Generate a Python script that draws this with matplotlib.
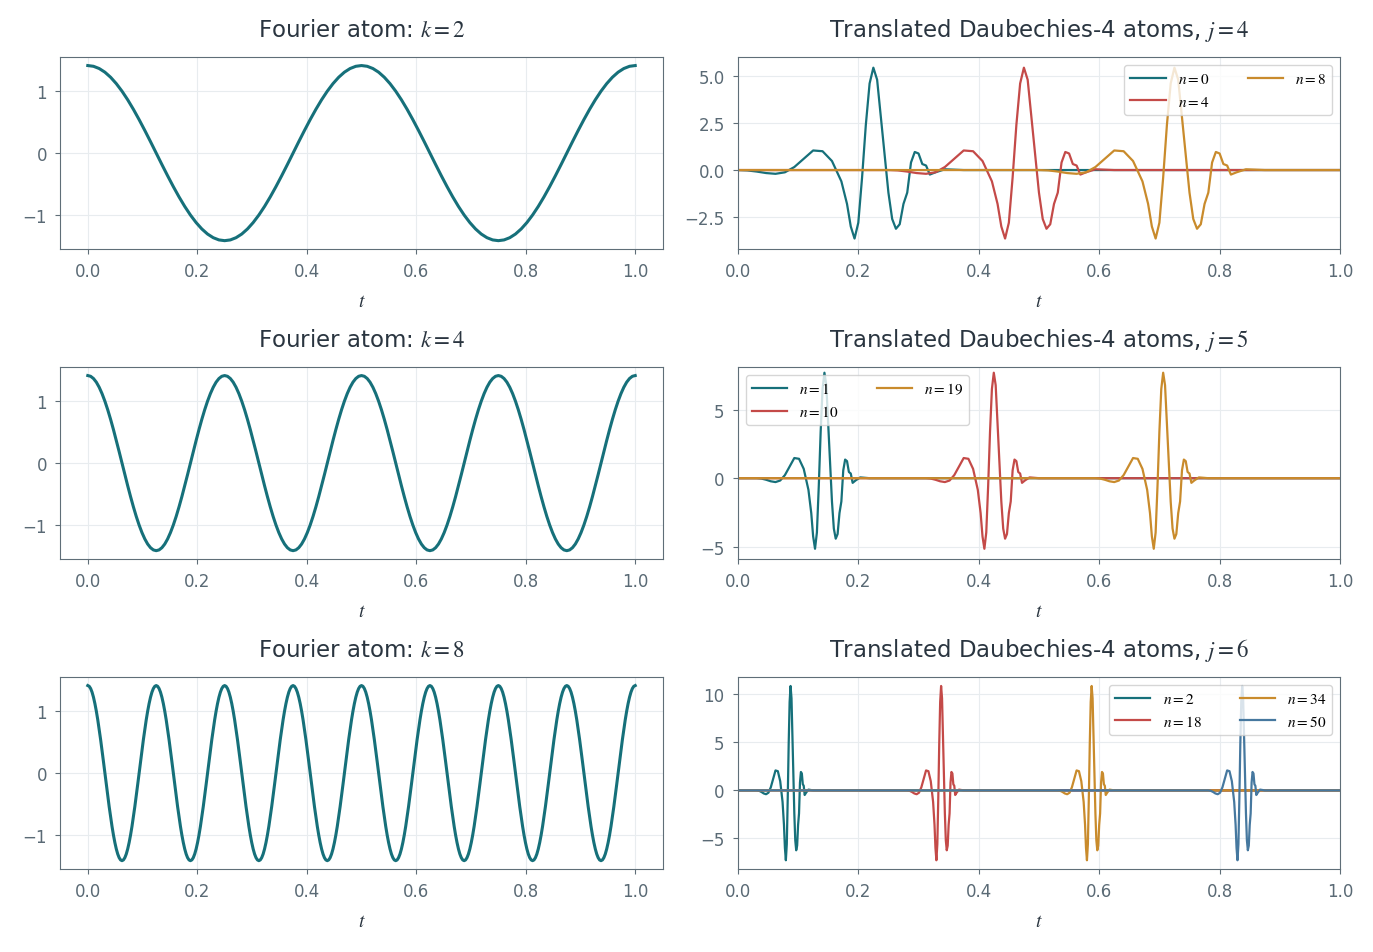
import matplotlib
matplotlib.use("Agg")
import matplotlib.pyplot as plt
import numpy as np

plt.rcParams['mathtext.fontset'] = 'stix'

fourier_period = [1.414, 1.402, 1.366, 1.307, 1.225, 1.122, 1.0, 0.861, 0.707, 0.541, 0.366,
                  0.185, 0.0, -0.185, -0.366, -0.541, -0.707, -0.861, -1.0, -1.122, -1.225,
                  -1.307, -1.366, -1.402, -1.414, -1.402, -1.366, -1.307, -1.225, -1.122, -1.0,
                  -0.861, -0.707, -0.541, -0.366, -0.185, 0.0, 0.185, 0.366, 0.541, 0.707,
                  0.861, 1.0, 1.122, 1.225, 1.307, 1.366, 1.402, 1.414]
fourier_k = [2, 4, 8]

# mother wavelet shape (Daubechies-4), support in units of 2^-j
psi_x = [0.0, 0.25, 0.5, 0.75, 1.0, 1.25, 1.5, 1.75, 2.0, 2.25, 2.5, 2.75, 2.9, 3.0, 3.1,
         3.2, 3.3, 3.4, 3.5, 3.6, 3.7, 3.8, 3.9, 4.0, 4.1, 4.2, 4.3, 4.4, 4.5, 4.6, 4.7,
         4.8, 4.9, 5.0, 5.1, 5.25, 5.5, 6.0, 7.0]
psi_y = [0.0, -0.005, -0.02, -0.04, -0.05, -0.03, 0.04, 0.15, 0.26, 0.25, 0.12, -0.15,
         -0.45, -0.75, -0.91, -0.7, -0.1, 0.6, 1.15, 1.36, 1.2, 0.7, 0.2, -0.3, -0.65,
         -0.78, -0.72, -0.45, -0.3, 0.1, 0.24, 0.22, 0.08, 0.06, -0.06, -0.03, 0.01, 0.0, 0.0]

levels = [4, 5, 6]
shifts = [[0, 4, 8], [1, 10, 19], [2, 18, 34, 50]]
ylims = [(-4.2, 6.0), (-5.9, 8.1), (-8.2, 11.8)]
yticks = [[-2.5, 0.0, 2.5, 5.0], [-5, 0, 5], [-5, 0, 5, 10]]
legend_loc = ['upper right', 'upper left', 'upper right']

colors = ['#16707a', '#c44a48', '#c98b2c', '#46789f']
teal = '#16707a'
edge = '#5f6e78'

fig, axes = plt.subplots(3, 2, figsize=(13.73, 9.53), dpi=100)

def style(ax):
    for s in ax.spines.values():
        s.set_color(edge)
    ax.tick_params(colors=edge, labelsize=12, labelcolor='#5a6a75', pad=6)
    ax.grid(True, color='#e8ecef', lw=0.8)
    ax.set_axisbelow(True)
    ax.set_xlabel('$t$', fontsize=14, color='#2a3540', labelpad=8)

for row, k in enumerate(fourier_k):
    ax = axes[row, 0]
    ys = np.array(fourier_period[:-1] * k + [fourier_period[-1]])
    ts = np.linspace(0, 1, len(ys))
    ax.plot(ts, ys, color=teal, lw=2.2)
    ax.set_xlim(-0.05, 1.05)
    ax.set_ylim(-1.55, 1.55)
    ax.set_yticks([-1, 0, 1])
    ax.set_title(f'Fourier atom: $k = {k}$', fontsize=16.5, color='#2a3540', pad=15)
    style(ax)

for row, j in enumerate(levels):
    ax = axes[row, 1]
    scale = 2 ** j
    for i, n in enumerate(shifts[row]):
        xs = (np.array(psi_x) + n) / scale
        ys = np.array(psi_y) * np.sqrt(scale)
        xs = np.concatenate([[0.0], xs, [1.0]])
        ys = np.concatenate([[0.0], ys, [0.0]])
        ax.plot(xs, ys, color=colors[i], lw=1.6, label=f'$n = {n}$')
    ax.set_xlim(0, 1)
    ax.set_ylim(*ylims[row])
    ax.set_yticks(yticks[row])
    if row == 0:
        ax.set_yticklabels([f'{v:.1f}'.replace('-', '\u2212') for v in yticks[row]])
    ax.set_title(f'Translated Daubechies-4 atoms, $j = {j}$', fontsize=16.5, color='#2a3540', pad=15)
    ax.legend(loc=legend_loc[row], ncol=2, fontsize=11, columnspacing=2.5, handlelength=2.3)
    style(ax)

fig.subplots_adjust(left=0.044, right=0.976, top=0.939, bottom=0.087, hspace=0.615, wspace=0.125)
fig.savefig('out.png', dpi=100)
